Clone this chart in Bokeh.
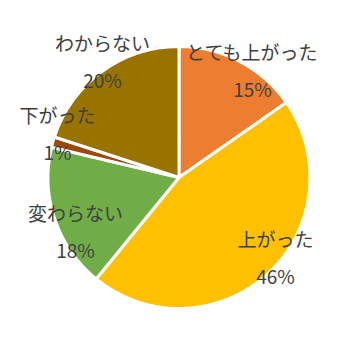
import math
from bokeh.plotting import figure
from bokeh.models import Range1d, ColumnDataSource
from bokeh.core.properties import value
from bokeh.embed import file_html
from bokeh.resources import INLINE

# ---- data ----
categories = ["とても上がった", "上がった", "変わらない", "下がった", "わからない"]
shares = [15.3, 45.6, 17.8, 1.3, 20.0]
colors = ["#ED7D31", "#FFC000", "#70AD47", "#9E480E", "#997300"]

# ---- layout / style ----
W, H = 357, 356
CX, CY_PX, R = 178.5, 177.0, 131.0
LABEL_R = 131.0
nudges = [(13, 9), (7.5, -17), (20.6, 11), (4.6, -9.6), (0.5, -11)]  # pixel nudges
LINE_GAP = 18.5
FONT = "Noto Sans CJK JP"

p = figure(width=W, height=H, output_backend="svg", toolbar_location=None,
           x_range=Range1d(0, W), y_range=Range1d(0, H), min_border=0)
p.axis.visible = False
p.grid.visible = False
p.outline_line_color = None
p.background_fill_color = "white"
p.border_fill_color = "white"

cy = H - CY_PX
total = sum(shares)
starts, ends, mids = [], [], []
cum = 0.0
for v in shares:
    a0 = cum / total
    cum += v
    a1 = cum / total
    starts.append(math.pi / 2 - 2 * math.pi * a0)
    ends.append(math.pi / 2 - 2 * math.pi * a1)
    mids.append((a0 + a1) / 2 * 2 * math.pi)

src = ColumnDataSource(dict(start=starts, end=ends, color=colors))
p.wedge(x=CX, y=cy, radius=R, start_angle="start", end_angle="end",
        direction="clock", fill_color="color", line_color="white",
        line_width=3, source=src)

name_x, name_y, pct_x, pct_y, pct_txt = [], [], [], [], []
for i, v in enumerate(shares):
    th = mids[i]
    px = CX + LABEL_R * math.sin(th) + nudges[i][0]
    py = CY_PX - LABEL_R * math.cos(th) + nudges[i][1]
    name_x.append(px)
    name_y.append(H - (py - LINE_GAP))
    pct_x.append(px)
    pct_y.append(H - (py + LINE_GAP))
    pct_txt.append(f"{round(v)}%")

p.text(x=name_x, y=name_y, text=categories, text_align="center",
       text_baseline="middle", text_font=value(FONT), text_font_size="19px",
       text_color="#404040")
p.text(x=pct_x, y=pct_y, text=pct_txt, text_align="center",
       text_baseline="middle", text_font=value(FONT), text_font_size="19px",
       text_color="#404040")

open("out.html", "w").write(file_html(p, INLINE))
